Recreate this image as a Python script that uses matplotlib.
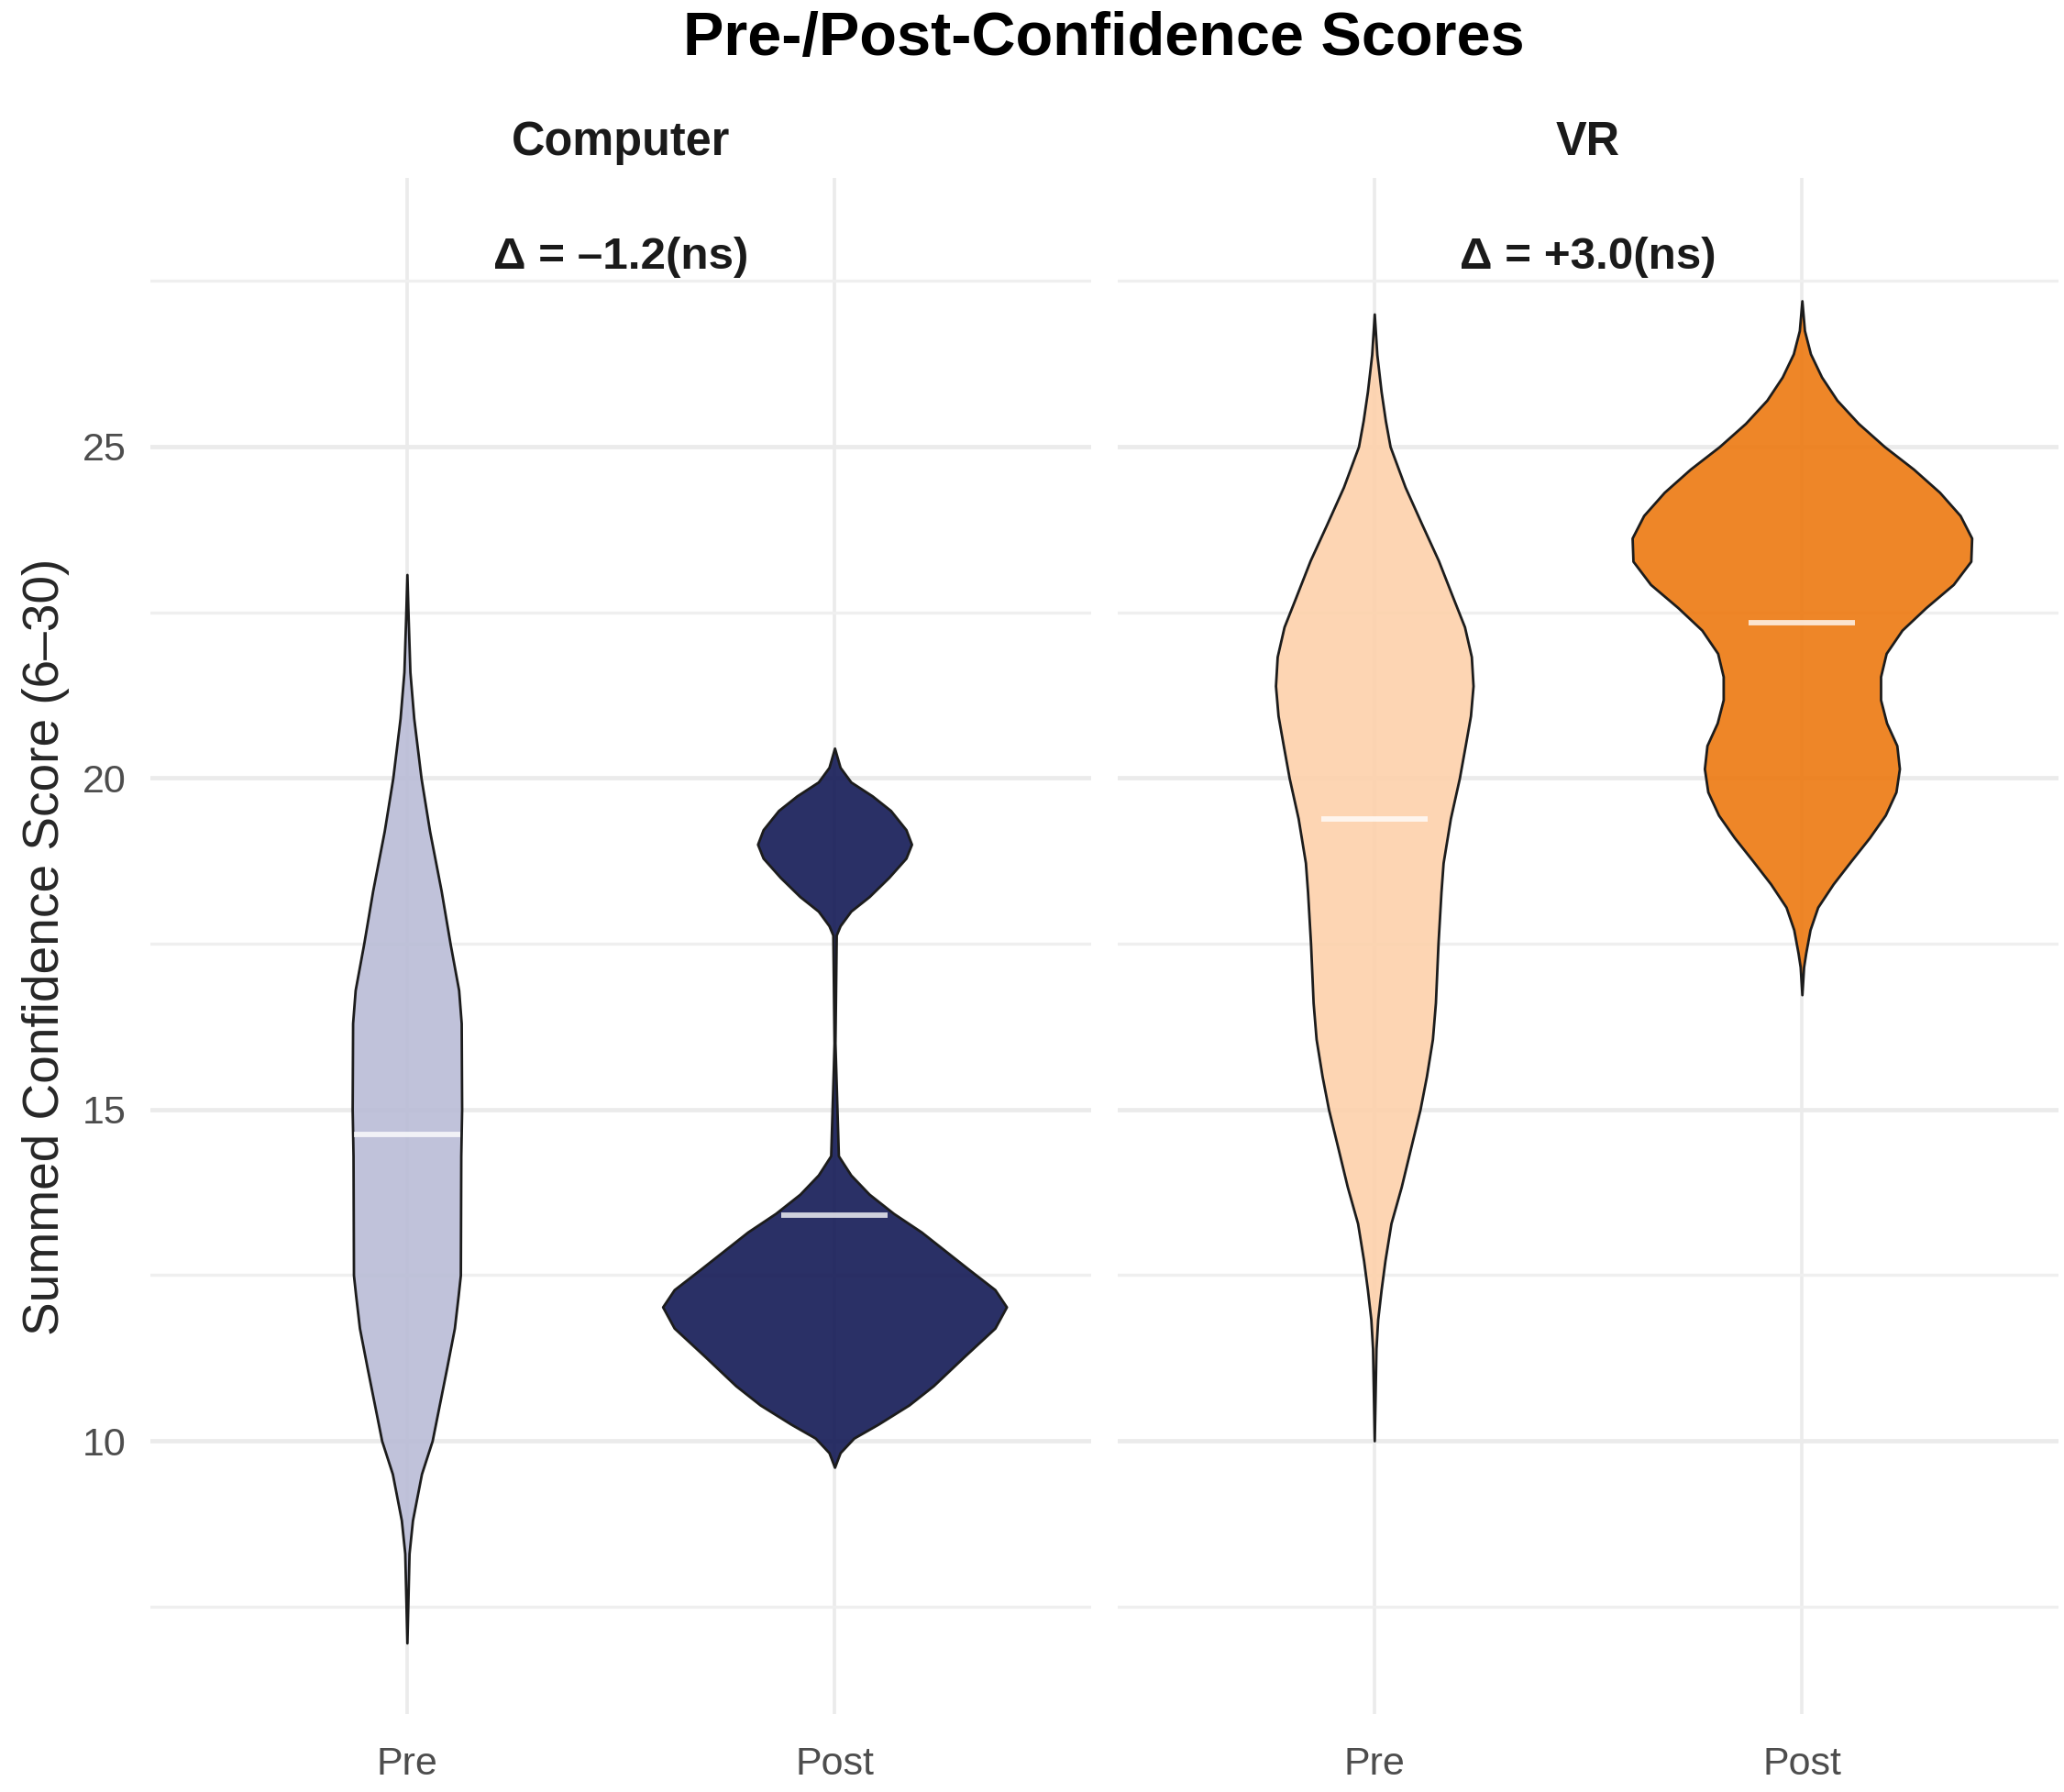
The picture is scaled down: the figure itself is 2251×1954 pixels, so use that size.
import numpy as np
import matplotlib
matplotlib.use("Agg")
import matplotlib.pyplot as plt
from matplotlib.colors import to_rgba

plt.rcParams['font.family'] = ['Liberation Sans', 'DejaVu Sans']

# ---------------- data ----------------
conditions = ["Computer", "VR"]
timepoints = ["Pre", "Post"]
delta_labels = ["Δ = –1.2(ns)", "Δ = +3.0(ns)"]
title = "Pre-/Post-Confidence Scores"
ylabel = "Summed Confidence Score (6–30)"
y_major = [10, 15, 20, 25]
y_minor = [7.5, 12.5, 17.5, 22.5, 27.5]

# group means (white lines)
comp_means = [14.62, 13.41]
vr_means = [19.38, 22.34]

# violin density profiles: score level and half-width (in x units)
comp_pre_y = [6.95, 8.3, 8.8, 9.5, 10.0, 11.1, 11.7, 12.2, 12.5, 14.3, 15.0,
              16.3, 16.8, 17.5, 18.3, 19.2, 20.0, 20.9, 21.6, 22.4, 23.07]
comp_pre_w = [0.0, 0.005, 0.013, 0.034, 0.059, 0.093, 0.111, 0.120, 0.125, 0.126, 0.128,
              0.127, 0.121, 0.101, 0.080, 0.053, 0.033, 0.016, 0.007, 0.003, 0.0]

comp_post_y = [9.60, 9.82, 10.04, 10.25, 10.54, 10.83, 11.27, 11.70, 12.02, 12.28, 12.57,
               12.86, 13.15, 13.43, 13.72, 14.01, 14.30, 16.0, 17.63, 17.77, 17.99,
               18.21, 18.50, 18.79, 19.00, 19.22, 19.51, 19.73, 19.94, 20.16, 20.45]
comp_post_w = [0.0, 0.013, 0.045, 0.102, 0.174, 0.231, 0.303, 0.375, 0.402, 0.375, 0.317,
               0.260, 0.203, 0.138, 0.081, 0.038, 0.009, 0.001, 0.004, 0.013, 0.038,
               0.081, 0.127, 0.167, 0.180, 0.167, 0.131, 0.088, 0.038, 0.013, 0.0]

vr_pre_y = [10.0, 11.39, 11.83, 12.28, 12.72, 13.28, 13.83, 14.39, 15.0, 15.5, 16.06,
            16.61, 17.5, 18.28, 18.72, 19.39, 20.0, 20.5, 20.94, 21.39, 21.83,
            22.28, 22.72, 23.28, 23.83, 24.39, 25.0, 25.39, 25.83, 26.39, 27.0]
vr_pre_w = [0.0, 0.004, 0.008, 0.016, 0.025, 0.039, 0.063, 0.084, 0.107, 0.122, 0.136,
            0.143, 0.149, 0.156, 0.161, 0.178, 0.199, 0.213, 0.225, 0.231, 0.227,
            0.211, 0.184, 0.150, 0.111, 0.072, 0.037, 0.026, 0.016, 0.006, 0.0]

vr_post_y = [16.73, 17.15, 17.36, 17.71, 18.05, 18.40, 18.75, 19.10, 19.44, 19.79, 20.14,
             20.49, 20.83, 21.18, 21.53, 21.88, 22.23, 22.57, 22.92, 23.27, 23.62,
             23.96, 24.31, 24.66, 25.0, 25.35, 25.70, 26.05, 26.40, 26.75, 27.20]
vr_post_w = [0.0, 0.004, 0.009, 0.019, 0.037, 0.073, 0.115, 0.158, 0.195, 0.220, 0.228,
             0.222, 0.198, 0.184, 0.184, 0.197, 0.234, 0.290, 0.354, 0.395, 0.397,
             0.370, 0.322, 0.261, 0.193, 0.132, 0.082, 0.046, 0.020, 0.006, 0.0]

comp_colors = ["#B9BCD6", "#131955"]
vr_colors = ["#FDD1AB", "#ED7910"]

# ---------------- figure ----------------
W, H, DPI = 2251, 1954, 200
fig = plt.figure(figsize=(W / DPI, H / DPI), dpi=DPI, facecolor="white")

def px_axes(x0, x1, ytop, ybot):
    return fig.add_axes([x0 / W, 1 - ybot / H, (x1 - x0) / W, (ybot - ytop) / H])

ax_c = px_axes(164, 1190, 194, 1869)
ax_v = px_axes(1219, 2245, 194, 1869)

panels = [
    (ax_c, "Computer", [(comp_pre_y, comp_pre_w), (comp_post_y, comp_post_w)], comp_means, comp_colors, delta_labels[0]),
    (ax_v, "VR", [(vr_pre_y, vr_pre_w), (vr_post_y, vr_post_w)], vr_means, vr_colors, delta_labels[1]),
]

for i, (ax, name, profiles, means, cols, dlab) in enumerate(panels):
    ax.set_facecolor("white")
    ax.set_xlim(0.4, 2.6)
    ax.set_ylim(5.877, 29.054)
    for s in ax.spines.values():
        s.set_visible(False)
    ax.set_yticks(y_major)
    ax.set_yticks(y_minor, minor=True)
    ax.set_xticks([1, 2])
    ax.set_xticklabels(timepoints)
    ax.grid(True, which="major", axis="y", color="#EBEBEB", lw=1.7, zorder=0)
    ax.grid(True, which="minor", axis="y", color="#EFEFEF", lw=1.2, zorder=0)
    ax.grid(True, which="major", axis="x", color="#EBEBEB", lw=1.3, zorder=0)
    ax.tick_params(axis="both", which="both", length=0)
    ax.tick_params(axis="x", pad=12.5, labelsize=15.5, labelcolor="#4D4D4D")
    ax.tick_params(axis="y", pad=9.5, labelsize=15.5, labelcolor="#4D4D4D")
    if i == 1:
        ax.set_yticklabels([])
    ax.set_axisbelow(True)

    for j, ((yy, ww), col) in enumerate(zip(profiles, cols)):
        xc = j + 1
        yy = np.asarray(yy)
        ww = np.asarray(ww)
        ax.fill_betweenx(yy, xc - ww, xc + ww, facecolor=to_rgba(col, 0.9),
                         edgecolor="#1C1C1C", lw=1.0, zorder=2)
        ax.plot([xc - 0.125, xc + 0.125], [means[j], means[j]], color="white",
                alpha=0.78, lw=2.1, solid_capstyle="butt", zorder=3)

    ax.text(1.5, 27.68, dlab, ha="center", va="baseline", fontsize=17.8,
            fontweight="bold", color="#1A1A1A")

    # facet strip label
    bb = ax.get_position()
    fig.text(bb.x0 + bb.width / 2, 1 - 169 / H, name, ha="center", va="baseline",
             fontsize=18.2, fontweight="bold", color="#1A1A1A")

fig.text(1204 / W, 1 - 60 / H, title, ha="center", va="baseline", fontsize=24,
         fontweight="bold", color="black")
fig.text(50 / W, 1 - 1032 / H, ylabel, ha="center", va="center", rotation=90,
         fontsize=19.8, color="#262626")

fig.savefig("out.png", dpi=DPI, facecolor="white")
